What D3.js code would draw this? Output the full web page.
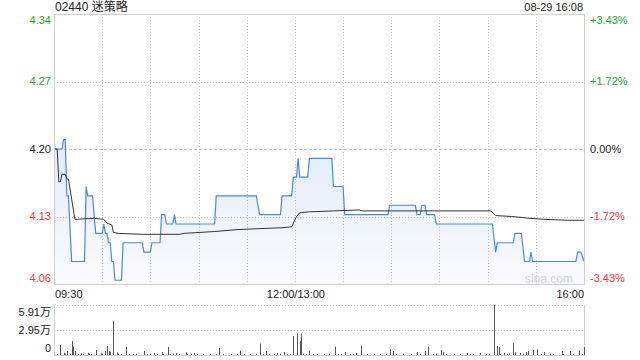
<!DOCTYPE html>
<html><head><meta charset="utf-8">
<script src="https://cdn.jsdelivr.net/npm/d3@7"></script>
<style>
html,body{margin:0;padding:0;background:#fff;}
svg{display:block;}
text{font-family:"Liberation Sans",Arial,"Noto Sans CJK SC",sans-serif;}
</style></head>
<body><svg id="c" width="640" height="360"></svg>
<script>
// ---- data ----
const title = "02440 迷策略";
const stamp = "08-29 16:08";
const prevClose = 4.20;
const priceTicks = [4.344, 4.272, 4.20, 4.128, 4.056];
const priceTickLabels = ["4.34", "4.27", "4.20", "4.13", "4.06"];
const pctTickLabels = ["+3.43%", "+1.72%", "0.00%", "-1.72%", "-3.43%"];
const timeLabels = ["09:30", "12:00/13:00", "16:00"];
const timeLabelMinutes = [0, 150, 330];
const volTicks = [59100, 29550, 0];
const volTickLabels = ["5.91万", "2.95万", "0"];

// minute index (0 = 09:30, 150 = 12:00/13:00, 330 = 16:00) and price
const priceMinutes = [0,5,6,7,8,9,11,19,20,21,24,26,30,31,32,33,34,35,36,37,38,42,43,55,56,60,61,66,67,69,70,74,75,76,100,101,126,128,141,142,148,149,151,152,153,158,159,173,174,180,181,208,209,225,226,228,229,231,232,237,238,273,275,276,286,287,291,293,296,297,298,325,326,328,330];
const prices = [4.20,4.20,4.21,4.21,4.15,4.15,4.08,4.08,4.16,4.15,4.15,4.11,4.11,4.12,4.11,4.11,4.10,4.10,4.08,4.08,4.06,4.06,4.10,4.10,4.09,4.09,4.10,4.10,4.13,4.13,4.12,4.12,4.13,4.12,4.12,4.15,4.15,4.13,4.13,4.15,4.15,4.17,4.17,4.19,4.17,4.17,4.19,4.19,4.16,4.16,4.13,4.13,4.14,4.14,4.13,4.13,4.14,4.14,4.13,4.13,4.12,4.12,4.09,4.10,4.10,4.11,4.11,4.08,4.08,4.09,4.08,4.08,4.09,4.09,4.08];

const avgMinutes = [0,2,3,4,5,7,8,9,13,25,31,33,36,37,40,55,78,81,100,114,127,142,148,151,153,159,174,190,192,272,275,285,297,305,320,330];
const avgPrices = [4.20,4.20,4.165,4.165,4.173,4.173,4.168,4.168,4.125,4.126,4.125,4.121,4.119,4.111,4.110,4.109,4.109,4.110,4.112,4.114,4.115,4.116,4.117,4.128,4.132,4.133,4.134,4.135,4.134,4.134,4.129,4.128,4.126,4.125,4.124,4.124];

const volMinutes = [2,4,6,7,8,10,11,12,13,15,17,18,21,22,23,26,29,30,32,33,34,35,37,39,40,42,45,47,49,51,56,58,60,62,64,67,68,71,72,74,76,78,82,83,85,87,89,93,97,101,103,105,110,114,116,118,122,126,128,130,132,134,137,139,141,143,145,147,149,151,153,154,155,157,159,161,164,168,171,175,177,179,181,184,186,188,191,195,199,203,207,209,211,213,217,222,226,228,231,233,236,238,241,242,244,249,253,257,259,261,265,269,271,274,276,277,278,280,282,283,286,287,290,292,294,295,298,301,303,305,309,311,316,317,321,323,327,329,330];
const volumes = [1200,11800,2700,1800,4700,1500,16500,9800,4700,1200,2000,1200,2700,1500,1200,5900,2000,1500,4700,10600,4700,3900,40500,3200,1500,1200,9500,1200,1200,1500,4700,1200,1500,2400,1200,3500,1500,9500,1200,1500,2400,1200,3200,1200,1500,2400,1200,1200,1500,1200,8300,1200,1200,1500,5100,1200,1200,1500,13400,1200,4700,1500,1200,2400,1500,3500,1200,1200,22500,25600,16500,25200,1500,1200,5100,1200,1500,1200,1500,9800,1200,1500,3500,1200,1500,2400,11000,1200,1500,1200,1500,7100,4700,1200,1500,1200,3500,1500,4700,9800,1200,1500,5900,3500,1200,1500,1200,2400,1500,1200,2400,1200,1500,59100,10600,9800,1200,2400,1500,2400,13800,3500,2400,1500,3500,4700,5900,6700,1200,3500,1500,1200,4700,1200,4700,1500,5100,1200,9500];

// ---- layout ----
const L = 54, R = 584, T = 14, B = 284, VT = 305, VB = 355;
const green = "#26a626", red = "#f03a3a", dark = "#222", grid = "#c8c8c8";

const svg = d3.select("#c");
const x = d3.scaleLinear().domain([0, 330]).range([L, R]);
const y = d3.scaleLinear().domain([priceTicks[4], priceTicks[0]]).range([B, T]);
const yv = d3.scaleLinear().domain([0, volTicks[0]]).range([VB, VT]);

const defs = svg.append("defs");
const g = defs.append("linearGradient").attr("id", "fillg").attr("gradientUnits", "userSpaceOnUse")
  .attr("x1", 0).attr("x2", 0).attr("y1", 150).attr("y2", B);
g.append("stop").attr("offset", "0").attr("stop-color", "#3b7be8").attr("stop-opacity", 0.14);
g.append("stop").attr("offset", "1").attr("stop-color", "#3b7be8").attr("stop-opacity", 0.03);

// vertical dotted grid (every 30 minutes)
const vMinutes = d3.range(30, 330, 30);
svg.append("g").selectAll("line").data(vMinutes).join("line")
  .attr("x1", d => Math.round(x(d)) + 0.5).attr("x2", d => Math.round(x(d)) + 0.5)
  .attr("y1", T).attr("y2", B)
  .attr("stroke", grid).attr("stroke-dasharray", "1,2");

// horizontal grid
svg.append("g").selectAll("line").data(priceTicks.slice(1, 4)).join("line")
  .attr("x1", L).attr("x2", R)
  .attr("y1", d => Math.round(y(d)) + 0.5).attr("y2", d => Math.round(y(d)) + 0.5)
  .attr("stroke", grid)
  .attr("stroke-dasharray", d => d === prevClose ? "3,2" : "1,2");

// area fill
const pts = priceMinutes.map((m, i) => [m, prices[i]]);
svg.append("path").datum(pts)
  .attr("d", d3.area().x(d => x(d[0])).y0(B).y1(d => y(d[1])))
  .attr("fill", "url(#fillg)");

// price line
svg.append("path").datum(pts)
  .attr("d", d3.line().x(d => x(d[0])).y(d => y(d[1])))
  .attr("fill", "none").attr("stroke", "#4b86ec").attr("stroke-width", 1.2);

// avg line
const apts = avgMinutes.map((m, i) => [m, avgPrices[i]]);
svg.append("path").datum(apts)
  .attr("d", d3.line().x(d => x(d[0])).y(d => y(d[1])))
  .attr("fill", "none").attr("stroke", "#333").attr("stroke-width", 1);

// border of price chart
svg.append("rect").attr("x", L + 0.5).attr("y", T + 0.5).attr("width", R - L).attr("height", B - T)
  .attr("fill", "none").attr("stroke", "#cfcfcf");

// watermark
svg.append("text").attr("x", 573).attr("y", 283).attr("text-anchor", "end")
  .attr("font-size", 12).attr("fill", "#d4d4d4").text("sina.com");

// price labels
const labelY = (i, yy) => i === 0 ? yy + 6 : (i === priceTicks.length - 1 ? yy - 6 : yy);
const colorFor = i => i < 2 ? green : (i === 2 ? dark : red);
svg.append("g").selectAll("text").data(priceTicks).join("text")
  .attr("x", 51).attr("y", (d, i) => labelY(i, y(d))).attr("dy", "0.35em")
  .attr("text-anchor", "end").attr("font-size", 11)
  .attr("fill", (d, i) => colorFor(i)).text((d, i) => priceTickLabels[i]);
svg.append("g").selectAll("text").data(priceTicks).join("text")
  .attr("x", 590).attr("y", (d, i) => labelY(i, y(d))).attr("dy", "0.35em")
  .attr("text-anchor", "start").attr("font-size", 11)
  .attr("fill", (d, i) => colorFor(i)).text((d, i) => pctTickLabels[i]);

// title & stamp
svg.append("text").attr("x", 55).attr("y", 7).attr("dy", "0.35em").attr("font-size", 12)
  .attr("fill", "#222").text(title);
svg.append("text").attr("x", 583).attr("y", 7).attr("dy", "0.35em").attr("font-size", 11)
  .attr("text-anchor", "end").attr("fill", "#222").text(stamp);

// time labels
svg.append("g").selectAll("text").data(timeLabelMinutes).join("text")
  .attr("x", (d, i) => i === 0 ? L + 1 : (i === 2 ? R : x(d) + 1))
  .attr("y", 294).attr("dy", "0.35em").attr("font-size", 11).attr("fill", "#222")
  .attr("text-anchor", (d, i) => i === 0 ? "start" : (i === 2 ? "end" : "middle"))
  .text((d, i) => timeLabels[i]);

// volume grid
svg.append("g").selectAll("line").data(volTicks.slice(0, 2)).join("line")
  .attr("x1", L).attr("x2", R)
  .attr("y1", d => Math.round(yv(d)) + 0.5).attr("y2", d => Math.round(yv(d)) + 0.5)
  .attr("stroke", grid).attr("stroke-dasharray", "1,2");
svg.append("line").attr("x1", L + 0.5).attr("x2", L + 0.5).attr("y1", VT).attr("y2", VB).attr("stroke", "#cfcfcf");
svg.append("line").attr("x1", R + 0.5).attr("x2", R + 0.5).attr("y1", VT).attr("y2", VB).attr("stroke", "#cfcfcf");
svg.append("line").attr("x1", L).attr("x2", R + 1).attr("y1", VB + 0.5).attr("y2", VB + 0.5).attr("stroke", "#cfcfcf");

// volume bars
svg.append("g").selectAll("rect").data(volMinutes).join("rect")
  .attr("x", d => Math.round(x(d)))
  .attr("width", 1)
  .attr("y", (d, i) => yv(volumes[i]))
  .attr("height", (d, i) => VB - yv(volumes[i]))
  .attr("fill", "#555");

// volume labels
svg.append("g").selectAll("text").data(volTicks).join("text")
  .attr("x", 51).attr("y", (d, i) => i === 0 ? yv(d) + 7 : (i === 2 ? yv(d) - 7 : yv(d)))
  .attr("dy", "0.35em").attr("text-anchor", "end").attr("font-size", 11).attr("fill", "#222")
  .text((d, i) => volTickLabels[i]);
</script></body></html>
